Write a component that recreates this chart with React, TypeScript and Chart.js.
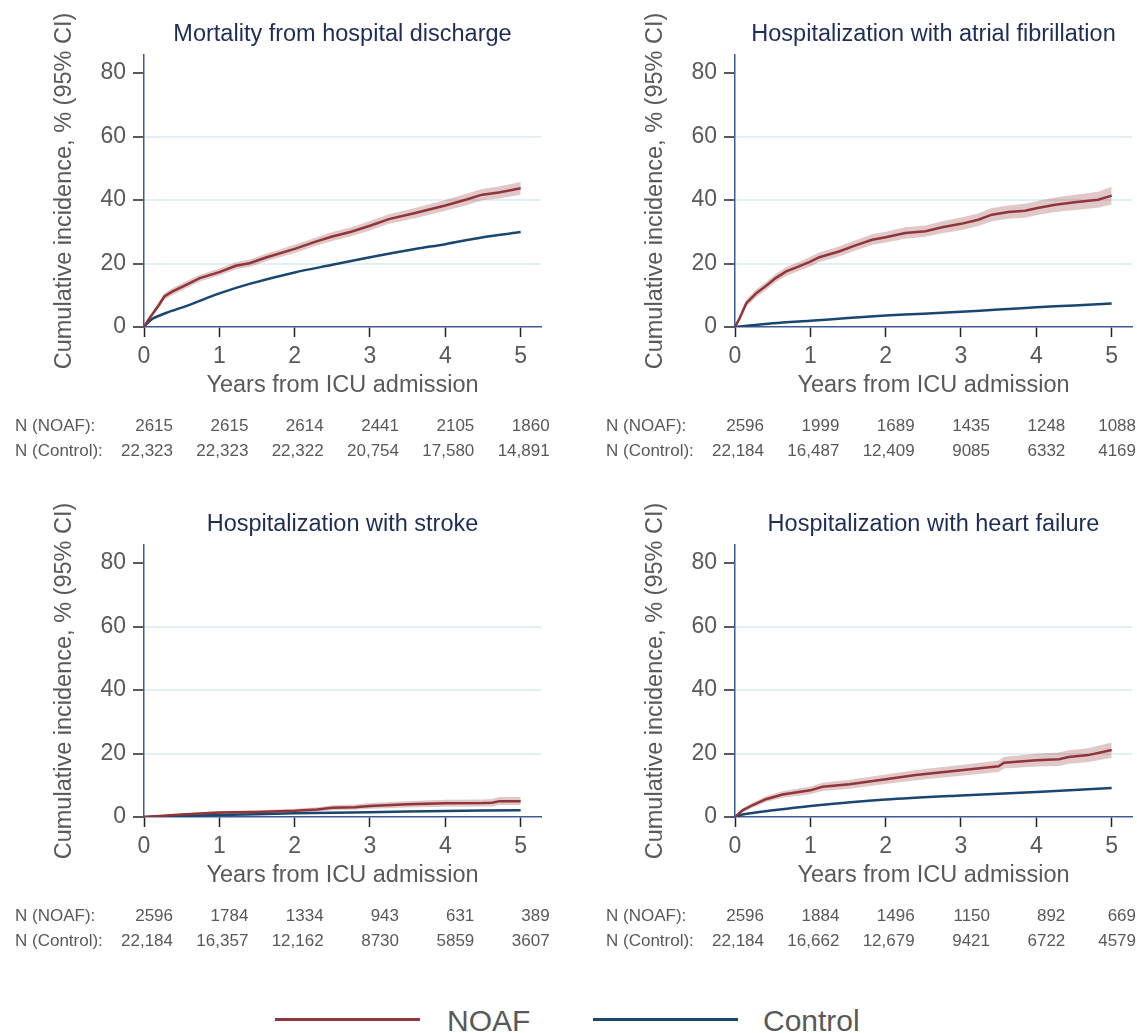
import React, { useEffect, useRef } from 'react';
import { Chart, registerables } from 'chart.js';

Chart.register(...registerables);

// ---------- Data ----------
const X_TICKS = [0, 1, 2, 3, 4, 5];
const Y_TICKS = [0, 20, 40, 60, 80];
const GRID_VALUES = [20, 40, 60];
const SERIES_NAMES = ['NOAF', 'Control'];
const X_TITLE = 'Years from ICU admission';
const Y_TITLE = 'Cumulative incidence, % (95% CI)';
const RISK_LABELS = ['N (NOAF):', 'N (Control):'];

// Mortality from hospital discharge
const mortTime = [0, 0.05, 0.12, 0.2, 0.27, 0.38, 0.56, 0.74, 1.0, 1.22, 1.4, 1.62, 2.0, 2.28, 2.5, 2.75, 3.0, 3.25, 3.6, 4.0, 4.27, 4.49, 4.71, 5.0];
const mortNoaf = [0, 2.0, 4.3, 7.0, 9.6, 11.2, 13.3, 15.4, 17.3, 19.3, 20.1, 21.9, 24.6, 26.9, 28.5, 30.0, 31.9, 34.0, 35.9, 38.3, 40.1, 41.7, 42.4, 43.7];
const mortNoafLo = [0, 1.5, 3.6, 6.1, 8.6, 10.1, 12.2, 14.3, 16.2, 18.2, 18.9, 20.7, 23.3, 25.6, 27.1, 28.6, 30.4, 32.5, 34.3, 36.6, 38.3, 39.9, 40.5, 41.7];
const mortNoafHi = [0, 2.5, 5.0, 7.9, 10.6, 12.3, 14.4, 16.5, 18.4, 20.4, 21.3, 23.1, 25.9, 28.2, 29.9, 31.4, 33.4, 35.5, 37.5, 40.0, 41.9, 43.5, 44.3, 45.7];
const mortCtrlTime = [0, 0.05, 0.12, 0.3, 0.56, 0.8, 1.0, 1.4, 2.0, 2.5, 3.0, 3.6, 4.0, 4.5, 5.0];
const mortCtrl = [0, 1.3, 2.7, 4.5, 6.6, 8.8, 10.6, 13.6, 17.2, 19.6, 22.0, 24.6, 26.1, 28.3, 29.9];
const mortRiskNoaf = ['2615', '2615', '2614', '2441', '2105', '1860'];
const mortRiskCtrl = ['22,323', '22,323', '22,322', '20,754', '17,580', '14,891'];

// Hospitalization with atrial fibrillation
const afTime = [0, 0.06, 0.15, 0.28, 0.41, 0.54, 0.68, 0.85, 1.0, 1.12, 1.38, 1.6, 1.82, 2.0, 2.26, 2.53, 2.75, 3.0, 3.23, 3.41, 3.63, 3.85, 4.0, 4.25, 4.51, 4.82, 5.0];
const afNoaf = [0, 2.7, 7.5, 10.6, 12.9, 15.4, 17.5, 19.1, 20.6, 22.0, 23.8, 25.7, 27.5, 28.3, 29.6, 30.2, 31.4, 32.5, 33.8, 35.4, 36.2, 36.6, 37.4, 38.5, 39.3, 40.1, 41.4];
const afNoafLo = [0, 1.9, 6.4, 9.4, 11.6, 14.1, 16.1, 17.7, 19.1, 20.5, 22.2, 24.1, 25.8, 26.6, 27.8, 28.4, 29.5, 30.5, 31.8, 33.3, 34.1, 34.4, 35.2, 36.2, 36.9, 37.6, 38.6];
const afNoafHi = [0, 3.5, 8.6, 11.8, 14.2, 16.7, 18.9, 20.5, 22.1, 23.5, 25.4, 27.3, 29.2, 30.0, 31.4, 32.0, 33.3, 34.5, 35.8, 37.5, 38.3, 38.8, 39.6, 40.8, 41.7, 42.6, 44.2];
const afCtrlTime = [0, 0.5, 1, 1.5, 2, 2.5, 3, 3.5, 4, 4.5, 5];
const afCtrl = [0, 1.2, 2.0, 2.8, 3.6, 4.2, 4.8, 5.5, 6.2, 6.8, 7.4];
const afRiskNoaf = ['2596', '1999', '1689', '1435', '1248', '1088'];
const afRiskCtrl = ['22,184', '16,487', '12,409', '9085', '6332', '4169'];

// Hospitalization with stroke
const strokeTime = [0, 0.5, 1.0, 1.5, 2.0, 2.3, 2.5, 2.8, 3.0, 3.5, 4.0, 4.5, 4.62, 4.72, 5.0];
const strokeNoaf = [0, 0.8, 1.4, 1.6, 2.0, 2.4, 2.9, 3.1, 3.5, 4.0, 4.3, 4.4, 4.5, 5.0, 5.0];
const strokeNoafLo = [0, 0.5, 0.9, 1.1, 1.4, 1.7, 2.1, 2.3, 2.6, 3.0, 3.2, 3.3, 3.3, 3.8, 3.8];
const strokeNoafHi = [0, 1.1, 1.9, 2.1, 2.6, 3.1, 3.7, 3.9, 4.4, 5.0, 5.4, 5.5, 5.7, 6.3, 6.3];
const strokeCtrlTime = [0, 0.5, 1, 2, 3, 4, 5];
const strokeCtrl = [0, 0.35, 0.6, 1.15, 1.5, 1.9, 2.1];
const strokeRiskNoaf = ['2596', '1784', '1334', '943', '631', '389'];
const strokeRiskCtrl = ['22,184', '16,357', '12,162', '8730', '5859', '3607'];

// Hospitalization with heart failure
const hfTime = [0, 0.1, 0.23, 0.41, 0.63, 1.0, 1.16, 1.52, 2.0, 2.4, 3.0, 3.5, 3.57, 4.0, 4.3, 4.43, 4.69, 5.0];
const hfNoaf = [0, 2.1, 3.7, 5.6, 7.1, 8.4, 9.5, 10.3, 11.9, 13.2, 14.7, 16.0, 17.1, 17.9, 18.2, 18.9, 19.5, 21.1];
const hfNoafLo = [0, 1.5, 2.9, 4.7, 6.1, 7.2, 8.2, 8.9, 10.4, 11.6, 13.0, 14.2, 15.3, 15.9, 16.1, 16.8, 17.3, 18.7];
const hfNoafHi = [0, 2.7, 4.5, 6.5, 8.1, 9.6, 10.8, 11.7, 13.4, 14.8, 16.4, 17.8, 18.9, 19.9, 20.3, 21.0, 21.7, 23.5];
const hfCtrlTime = [0, 0.1, 0.5, 1, 2, 3, 4, 5];
const hfCtrl = [0, 0.8, 2.1, 3.5, 5.5, 6.8, 7.9, 9.1];
const hfRiskNoaf = ['2596', '1884', '1496', '1150', '892', '669'];
const hfRiskCtrl = ['22,184', '16,662', '12,679', '9421', '6722', '4579'];

// ---------- Styles ----------
const FONT = '"Liberation Sans", Arial, Helvetica, sans-serif';
const RED = '#90353B';
const BLUE = '#1A476F';
const BAND = 'rgba(144,53,59,0.28)';
const AXIS = '#3e5a96';
const GRID = '#e3eef0';
const TEXT = '#595959';
const TITLE_COLOR = '#1f2c55';

type PanelDef = {
  title: string;
  time: number[];
  noaf: number[];
  lo: number[];
  hi: number[];
  ctrlTime: number[];
  ctrl: number[];
  riskNoaf: string[];
  riskCtrl: string[];
};

const panels: PanelDef[] = [
  { title: 'Mortality from hospital discharge', time: mortTime, noaf: mortNoaf, lo: mortNoafLo, hi: mortNoafHi, ctrlTime: mortCtrlTime, ctrl: mortCtrl, riskNoaf: mortRiskNoaf, riskCtrl: mortRiskCtrl },
  { title: 'Hospitalization with atrial fibrillation', time: afTime, noaf: afNoaf, lo: afNoafLo, hi: afNoafHi, ctrlTime: afCtrlTime, ctrl: afCtrl, riskNoaf: afRiskNoaf, riskCtrl: afRiskCtrl },
  { title: 'Hospitalization with stroke', time: strokeTime, noaf: strokeNoaf, lo: strokeNoafLo, hi: strokeNoafHi, ctrlTime: strokeCtrlTime, ctrl: strokeCtrl, riskNoaf: strokeRiskNoaf, riskCtrl: strokeRiskCtrl },
  { title: 'Hospitalization with heart failure', time: hfTime, noaf: hfNoaf, lo: hfNoafLo, hi: hfNoafHi, ctrlTime: hfCtrlTime, ctrl: hfCtrl, riskNoaf: hfRiskNoaf, riskCtrl: hfRiskCtrl },
];

const pts = (xs: number[], ys: number[]) => xs.map((x, i) => ({ x, y: ys[i] }));

function Panel({ def, left, top, width, height }: { def: PanelDef; left: number; top: number; width: number; height: number }) {
  const ref = useRef<HTMLCanvasElement>(null);
  useEffect(() => {
    const textPlugin = {
      id: 'panelText',
      afterDraw(chart: any) {
        const { ctx, chartArea } = chart;
        const cx = (chartArea.left + chartArea.right) / 2;
        const cy = (chartArea.top + chartArea.bottom) / 2;
        ctx.save();
        ctx.textAlign = 'center';
        ctx.textBaseline = 'middle';
        ctx.font = `23.5px ${FONT}`;
        ctx.fillStyle = TITLE_COLOR;
        ctx.fillText(def.title, cx, 35);
        ctx.fillStyle = TEXT;
        ctx.font = `23.5px ${FONT}`;
        ctx.fillText(X_TITLE, cx, 386);
        ctx.save();
        ctx.translate(65, cy);
        ctx.rotate(-Math.PI / 2);
        ctx.fillText(Y_TITLE, 0, 0);
        ctx.restore();
        ctx.font = `17px ${FONT}`;
        ctx.textAlign = 'left';
        ctx.fillText(RISK_LABELS[0], 15, 426);
        ctx.fillText(RISK_LABELS[1], 15, 451);
        ctx.textAlign = 'right';
        const xs = chart.scales.x;
        X_TICKS.forEach((t, i) => {
          const px = Math.min(xs.getPixelForValue(t) + 29, chart.width - 1);
          ctx.fillText(def.riskNoaf[i], px, 426);
          ctx.fillText(def.riskCtrl[i], px, 451);
        });
        ctx.restore();
      },
    };

    const chart = new Chart(ref.current as HTMLCanvasElement, {
      type: 'line',
      data: {
        datasets: [
          { label: SERIES_NAMES[0], data: pts(def.time, def.noaf), borderColor: RED, borderWidth: 2.5, pointRadius: 0, fill: false, tension: 0 },
          { label: SERIES_NAMES[1], data: pts(def.ctrlTime, def.ctrl), borderColor: BLUE, borderWidth: 2.5, pointRadius: 0, fill: false, tension: 0.3 },
          { label: 'lo', data: pts(def.time, def.lo), borderColor: 'transparent', borderWidth: 0, pointRadius: 0, fill: false },
          { label: 'hi', data: pts(def.time, def.hi), borderColor: 'transparent', borderWidth: 0, pointRadius: 0, fill: '-1', backgroundColor: BAND },
        ],
      },
      options: {
        responsive: false,
        animation: false,
        events: [],
        layout: { padding: { left: 0, top: 55, right: width - 541, bottom: 0 } },
        scales: {
          x: {
            type: 'linear',
            min: 0,
            max: 5.27,
            afterBuildTicks: (s: any) => { s.ticks = X_TICKS.map((v) => ({ value: v })); },
            afterFit: (s: any) => { s.height = 163; },
            ticks: { color: TEXT, font: { family: FONT, size: 23 }, padding: 6, maxRotation: 0 },
            grid: { drawOnChartArea: false, drawTicks: true, tickLength: 10, tickColor: '#222', tickWidth: 1.5 },
            border: { color: AXIS, width: 1.5 },
          },
          y: {
            type: 'linear',
            min: 0,
            max: 85.7,
            afterBuildTicks: (s: any) => { s.ticks = Y_TICKS.map((v) => ({ value: v })); },
            afterFit: (s: any) => { s.width = 144; },
            ticks: { color: TEXT, font: { family: FONT, size: 23 }, padding: 7 },
            grid: {
              color: (c: any) => (GRID_VALUES.includes(c.tick?.value) ? GRID : 'rgba(0,0,0,0)'),
              lineWidth: 2,
              drawTicks: true,
              tickLength: 11,
              tickColor: '#222',
              tickWidth: 1.5,
            },
            border: { color: AXIS, width: 1.5 },
          },
        },
        plugins: {
          legend: { display: false },
          tooltip: { enabled: false },
          filler: { drawTime: 'beforeDatasetsDraw' },
        },
      } as any,
      plugins: [textPlugin],
    });
    return () => chart.destroy();
  }, [def, width, height]);
  return <canvas ref={ref} width={width} height={height} style={{ position: 'absolute', left, top, width, height }} />;
}

export default function App() {
  return (
    <div style={{ position: 'absolute', left: 0, top: 0, width: 1137, height: 1033, overflow: 'hidden', background: '#fff', fontFamily: FONT }}>
      <Panel def={panels[0]} left={0} top={0} width={591} height={490} />
      <Panel def={panels[1]} left={591} top={0} width={546} height={490} />
      <Panel def={panels[2]} left={0} top={490} width={591} height={490} />
      <Panel def={panels[3]} left={591} top={490} width={546} height={490} />
      <div style={{ position: 'absolute', left: 275, top: 1018, width: 145, height: 3, background: RED }} />
      <div style={{ position: 'absolute', left: 447, top: 1004, fontSize: 30, lineHeight: '34px', color: TEXT }}>{SERIES_NAMES[0]}</div>
      <div style={{ position: 'absolute', left: 593, top: 1018, width: 145, height: 3, background: BLUE }} />
      <div style={{ position: 'absolute', left: 763, top: 1004, fontSize: 30, lineHeight: '34px', color: TEXT }}>{SERIES_NAMES[1]}</div>
    </div>
  );
}
